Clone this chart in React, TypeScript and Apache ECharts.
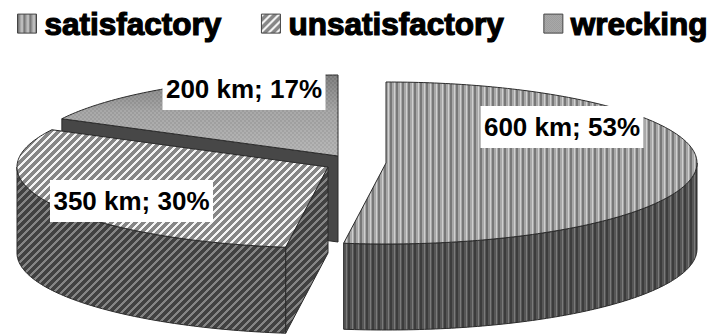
import React, { useEffect, useRef } from "react";
import * as echarts from "echarts";

const categories = ["satisfactory", "unsatisfactory", "wrecking"];
const lengthsKm = [600, 350, 200];
const sharesPct = [53, 30, 17];

const WIDTH = 715;
const HEIGHT = 334;
const RX = 311;
const RY = 81;
const DEPTH = 86;
const centers = [
  [386, 163],
  [328, 167],
  [338, 156],
];
const labelCenters = [
  [562, 127],
  [131.5, 201],
  [244, 89],
];
const LABEL_W = 163;
const LABEL_H = 42;
const OUTLINE = "#2a2a2a";
const FONT = '"Liberation Sans", Arial, sans-serif';

// Builds a small tile from a per-pixel colour function, for use as a repeating fill.
function tile(w: number, h: number, colorAt: (x: number, y: number) => string) {
  const canvas = document.createElement("canvas");
  canvas.width = w;
  canvas.height = h;
  const ctx = canvas.getContext("2d")!;
  for (let y = 0; y < h; y++) {
    for (let x = 0; x < w; x++) {
      ctx.fillStyle = colorAt(x, y);
      ctx.fillRect(x, y, 1, 1);
    }
  }
  return { image: canvas, repeat: "repeat" } as any;
}

const stripes = (a: string, b: string, c: string) => {
  const row = [a, a, b, b, c, b];
  return tile(6, 1, (x) => row[x]);
};
const diagonal = (light: string, dark: string) =>
  tile(8, 8, (x, y) => ((x + y) % 8 < 3 ? light : dark));
const dither = (alpha: number) =>
  tile(4, 4, (x, y) =>
    (x % 4 < 2) !== (y % 4 < 2) ? `rgba(255,255,255,${alpha})` : `rgba(0,0,0,${alpha})`
  );

// Point on the rim of a slice's elliptical top face; angle runs clockwise from 12 o'clock.
function rim(cx: number, cy: number, deg: number, drop = 0) {
  const a = (deg * Math.PI) / 180;
  return [cx + RX * Math.sin(a), cy - RY * Math.cos(a) + drop];
}
function arc(cx: number, cy: number, from: number, to: number, drop = 0) {
  const pts: number[][] = [];
  const n = Math.max(2, Math.ceil(Math.abs(to - from)));
  for (let i = 0; i <= n; i++) pts.push(rim(cx, cy, from + ((to - from) * i) / n, drop));
  return pts;
}

function sliceAngles(index: number) {
  const total = lengthsKm.reduce((s, v) => s + v, 0);
  const before = lengthsKm.slice(0, index).reduce((s, v) => s + v, 0);
  return [(before / total) * 360, ((before + lengthsKm[index]) / total) * 360];
}

function poly(points: number[][], fill: any, stroke: string | null = OUTLINE) {
  return {
    type: "polygon",
    shape: { points },
    style: { fill, stroke: stroke ?? "none", lineWidth: stroke ? 1 : 0 },
  };
}

function labelEls(i: number, km: number) {
  const [lx, ly] = labelCenters[i];
  return [
    {
      type: "rect",
      shape: { x: lx - LABEL_W / 2, y: ly - LABEL_H / 2, width: LABEL_W, height: LABEL_H },
      style: { fill: "#ffffff" },
    },
    {
      type: "text",
      style: {
        x: lx,
        y: ly,
        text: `${km} km; ${sharesPct[i]}%`,
        fill: "#000000",
        font: `bold 26px ${FONT}`,
        align: "center",
        verticalAlign: "middle",
      },
    },
  ];
}

export default function App() {
  const ref = useRef<HTMLDivElement>(null);

  useEffect(() => {
    document.body.style.margin = "0";
    const chart = echarts.init(ref.current!, null, { renderer: "svg" });

    const fills = {
      satTop: stripes("#787878", "#a8a8a8", "#d0d0d0"),
      satSide: stripes("#3c3c3c", "#565656", "#7a7a7a"),
      unsatTop: diagonal("#f4f4f4", "#868686"),
      unsatSide: diagonal("#858585", "#414141"),
      wreckGrain: dither(0.05),
      wreckSwatch: tile(2, 2, (x, y) => ((x + y) % 2 ? "#acacac" : "#9a9a9a")),
    };

    const renderSlice = (i: number) => (_: any, api: any) => {
      const km = api.value(0) as number;
      const [cx, cy] = centers[i];
      const [start, end] = sliceAngles(i);
      const top = [[cx, cy], ...arc(cx, cy, start, end)];
      const children: any[] = [];

      if (i === 0) {
        // Only the front-facing part of the outer wall shows.
        const upper = arc(cx, cy, 90, end);
        const lower = arc(cx, cy, end, 90, DEPTH);
        children.push(poly([...upper, ...lower], fills.satSide));
        children.push(poly(top, fills.satTop));
      } else if (i === 1) {
        const a = rim(cx, cy, start);
        const upper = arc(cx, cy, start, 270);
        const lower = arc(cx, cy, 270, start, DEPTH);
        children.push(
          poly([[cx, cy], a, [a[0], a[1] + DEPTH], [cx, cy + DEPTH]], fills.unsatSide)
        );
        children.push(poly([...upper, ...lower], fills.unsatSide));
        children.push(poly(top, fills.unsatTop));
      } else {
        const a = rim(cx, cy, start);
        children.push(
          poly([[cx, cy], a, [a[0], a[1] + DEPTH], [cx, cy + DEPTH]], "#474747")
        );
        children.push(
          poly(top, {
            type: "linear",
            x: 0,
            y: 0,
            x2: 0,
            y2: 1,
            colorStops: [
              { offset: 0, color: "#7c7c7c" },
              { offset: 0.45, color: "#a4a4a4" },
              { offset: 1, color: "#b4b4b4" },
            ],
          })
        );
        children.push(poly(top, fills.wreckGrain, null));
      }
      children.push(...labelEls(i, km));
      return { type: "group", children };
    };

    // Painted back to front: wrecking, then unsatisfactory, then satisfactory.
    const layering = [3, 2, 1];

    chart.setOption({
      animation: false,
      legend: {
        left: 17,
        top: 7,
        width: 700,
        padding: 0,
        orient: "horizontal",
        itemWidth: 19,
        itemHeight: 19,
        itemGap: 39,
        selectedMode: false,
        textStyle: {
          fontFamily: FONT,
          fontWeight: "bold",
          fontSize: 31.5,
          color: "#000000",
          textBorderColor: "#000000",
          textBorderWidth: 1.2,
          padding: [0, 0, 0, 3],
        },
        data: [
          { name: categories[0], icon: "rect", itemStyle: { color: fills.satTop, borderColor: "#444", borderWidth: 1 } },
          { name: categories[1], icon: "rect", itemStyle: { color: fills.unsatTop, borderColor: "#444", borderWidth: 1 } },
          { name: categories[2], icon: "rect", itemStyle: { color: fills.wreckSwatch, borderColor: "#444", borderWidth: 1 } },
        ],
      },
      series: categories.map((name, i) => ({
        type: "custom",
        name,
        z: layering[i],
        coordinateSystem: "none",
        silent: true,
        data: [[lengthsKm[i]]],
        renderItem: renderSlice(i),
      })),
    });

    return () => chart.dispose();
  }, []);

  return <div ref={ref} style={{ width: WIDTH, height: HEIGHT }} />;
}
